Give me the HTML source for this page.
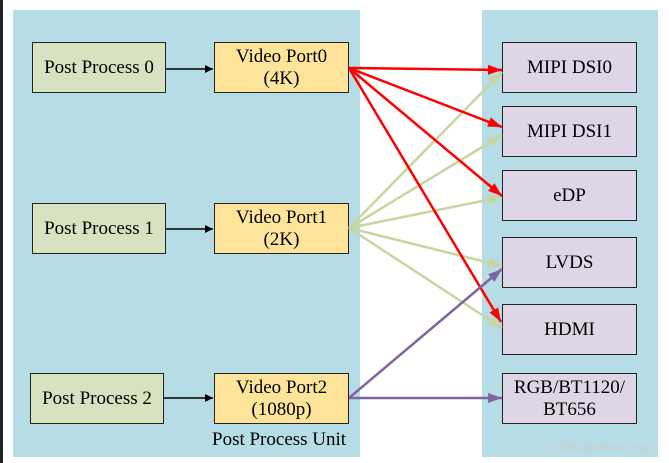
<!DOCTYPE html>
<html><head><style>
body{margin:0;width:669px;height:463px;background:#fff;position:relative;overflow:hidden;font-family:"Liberation Serif",serif;}
.p{position:absolute;background:#b6dce6}
.b{position:absolute;box-sizing:border-box;border:1.5px solid #222;display:flex;align-items:center;justify-content:center;text-align:center;font-size:19px;line-height:22px;color:#000}
.g{background:#d6e2c0}.y{background:#fde49a}.v{background:#ded6e6}
</style></head><body>
<div style="position:absolute;left:0;top:0;width:3px;height:463px;background:#222"></div>
<div class="p" style="left:13px;top:10px;width:347px;height:447px"></div>
<div class="p" style="left:482px;top:10px;width:176px;height:447px"></div>
<div class="b g" style="left:32px;top:42px;width:134px;height:51px">Post Process 0</div>
<div class="b g" style="left:32px;top:203px;width:134px;height:51px">Post Process 1</div>
<div class="b g" style="left:30px;top:373px;width:134px;height:51px">Post Process 2</div>
<div class="b y" style="left:214px;top:42px;width:135px;height:51px">Video Port0<br>(4K)</div>
<div class="b y" style="left:214px;top:203px;width:135px;height:51px">Video Port1<br>(2K)</div>
<div class="b y" style="left:214px;top:373px;width:135px;height:51px">Video Port2<br>(1080p)</div>
<div class="b v" style="left:502px;top:42px;width:135px;height:51px">MIPI DSI0</div>
<div class="b v" style="left:502px;top:106px;width:135px;height:51px">MIPI DSI1</div>
<div class="b v" style="left:502px;top:170px;width:135px;height:51px">eDP</div>
<div class="b v" style="left:502px;top:237px;width:135px;height:51px">LVDS</div>
<div class="b v" style="left:502px;top:304px;width:135px;height:51px">HDMI</div>
<div class="b v" style="left:502px;top:373px;width:135px;height:51px">RGB/BT1120/<br>BT656</div>
<div style="position:absolute;left:212px;top:429px;font-size:19px">Post Process Unit</div>
<div style="position:absolute;left:548px;top:442px;font-size:11px;color:#ccc;font-family:'Liberation Sans',sans-serif">CSDN @william_myq</div>
<svg width="669" height="463" style="position:absolute;left:0;top:0">
<defs>
<marker id="k" markerWidth="8" markerHeight="8" refX="8" refY="4" orient="auto" markerUnits="userSpaceOnUse" viewBox="0 0 8 8"><path d="M0,0L8,4L0,8z" fill="#000"/></marker>
<marker id="r" markerWidth="14" markerHeight="10" refX="14" refY="5" orient="auto" markerUnits="userSpaceOnUse"><path d="M0,0L14,5L0,10z" fill="#f00"/></marker>
<marker id="gr" markerWidth="14" markerHeight="10" refX="14" refY="5" orient="auto" markerUnits="userSpaceOnUse"><path d="M0,0L14,5L0,10z" fill="#c6d6a0"/></marker>
<marker id="pu" markerWidth="14" markerHeight="10" refX="14" refY="5" orient="auto" markerUnits="userSpaceOnUse"><path d="M0,0L14,5L0,10z" fill="#8064a2"/></marker>
</defs>
<g stroke="#000" stroke-width="1.5"><line x1="166" y1="69" x2="213" y2="69" marker-end="url(#k)"/><line x1="166" y1="229" x2="213" y2="229" marker-end="url(#k)"/><line x1="164" y1="398" x2="213" y2="398" marker-end="url(#k)"/></g>
<g stroke="#c6d6a0" stroke-width="2.5" fill="none">
<line x1="349" y1="228" x2="502" y2="72" marker-end="url(#gr)"/>
<line x1="349" y1="228" x2="502" y2="135" marker-end="url(#gr)"/>
<line x1="349" y1="228" x2="502" y2="197" marker-end="url(#gr)"/>
<line x1="349" y1="228" x2="502" y2="266" marker-end="url(#gr)"/>
<line x1="349" y1="228" x2="502" y2="328" marker-end="url(#gr)"/>
</g>
<g stroke="#f00" stroke-width="2.5" fill="none">
<line x1="349" y1="68" x2="502" y2="70" marker-end="url(#r)"/>
<line x1="349" y1="68" x2="502" y2="127" marker-end="url(#r)"/>
<line x1="349" y1="68" x2="502" y2="196" marker-end="url(#r)"/>
<line x1="349" y1="68" x2="501" y2="322" marker-end="url(#r)"/>
</g>
<g stroke="#8064a2" stroke-width="2.5" fill="none">
<line x1="349" y1="398" x2="502" y2="269" marker-end="url(#pu)"/>
<line x1="349" y1="398" x2="502" y2="398" marker-end="url(#pu)"/>
</g>
</svg>
</body></html>
